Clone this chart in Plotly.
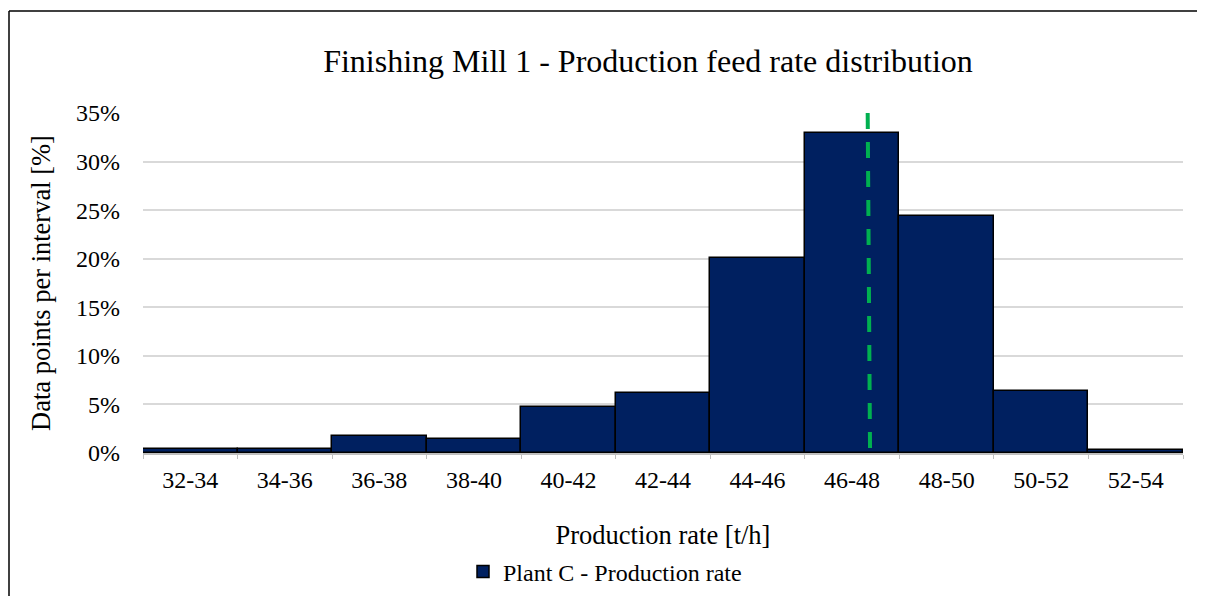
import plotly.graph_objects as go

categories = ["32-34", "34-36", "36-38", "38-40", "40-42", "42-44",
              "44-46", "46-48", "48-50", "50-52", "52-54"]
share = [0.0042, 0.0040, 0.0173, 0.0146, 0.0475, 0.0620,
         0.2007, 0.3297, 0.2440, 0.0640, 0.0035]
mean_line_x = [47.33, 47.38]   # t/h (top, bottom)
mean_line_y = [0.35, 0.0]

FONT = "Liberation Serif"
OFF = 8  # page body margin
W, H = 1189, 588
L, R, T, B = 135, 14, 105, 143
pw, ph = W - L - R, H - T - B

def px_x(p):
    return (p - OFF - L) / pw

def px_y(p):
    return (H - B - (p - OFF)) / ph

fig = go.Figure()
fig.add_trace(go.Bar(
    x=categories, y=share, name="Plant C - Production rate",
    marker=dict(color="#002060", line=dict(color="black", width=1.5)),
    width=1.0,
))
fig.add_trace(go.Scatter(
    x=mean_line_x, y=mean_line_y, xaxis="x2", yaxis="y", mode="lines",
    line=dict(color="#00B050", width=4, dash="16px,13px"),
    showlegend=False, hoverinfo="skip",
))

border = dict(color="black", width=1.5)
fig.update_layout(
    width=W, height=H,
    margin=dict(l=L, r=R, t=T, b=B, autoexpand=False),
    paper_bgcolor="white", plot_bgcolor="white",
    font=dict(family=FONT, color="black"),
    bargap=0,
    title=dict(text="Finishing Mill 1 - Production feed rate distribution",
               font=dict(family=FONT, size=32, color="black"),
               x=px_x(648), xref="paper", xanchor="center",
               y=1 - (61 - OFF) / H, yref="container", yanchor="middle"),
    xaxis=dict(
        type="category", range=[-0.5, 10.5], automargin=False,
        showline=True, linecolor="#bfbfbf", linewidth=1.5,
        ticks="outside", tickson="boundaries", ticklen=4, tickcolor="#bfbfbf",
        ticklabelstandoff=4,
        tickfont=dict(family=FONT, size=24, color="black"),
        showgrid=False,
        title=dict(text="Production rate [t/h]",
                   font=dict(family=FONT, size=26.5, color="black"),
                   standoff=34),
    ),
    xaxis2=dict(range=[32, 54], overlaying="x", visible=False),
    yaxis=dict(
        range=[0, 0.35], dtick=0.05, tickformat=".0%", automargin=False,
        showgrid=True, gridcolor="#d9d9d9", gridwidth=1.5,
        zeroline=False, showline=False, ticks="",
        ticklabelstandoff=22,
        tickfont=dict(family=FONT, size=24, color="black"),
        title=dict(text="Data points per interval [%]",
                   font=dict(family=FONT, size=26.5, color="black"),
                   standoff=17),
    ),
    legend=dict(orientation="h", x=px_x(463), xanchor="left",
                y=px_y(572), yanchor="middle",
                font=dict(family=FONT, size=24, color="black"),
                itemwidth=30, bgcolor="rgba(0,0,0,0)"),
    shapes=[
        dict(type="line", xref="paper", yref="paper",
             x0=px_x(OFF + 1), x1=px_x(OFF + W), y0=px_y(OFF + 3), y1=px_y(OFF + 3),
             line=border, layer="below"),
        dict(type="line", xref="paper", yref="paper",
             x0=px_x(OFF + 1), x1=px_x(OFF + 1), y0=px_y(OFF + 3), y1=px_y(OFF + H),
             line=border, layer="below"),
    ],
)

fig.write_html("out.html")
